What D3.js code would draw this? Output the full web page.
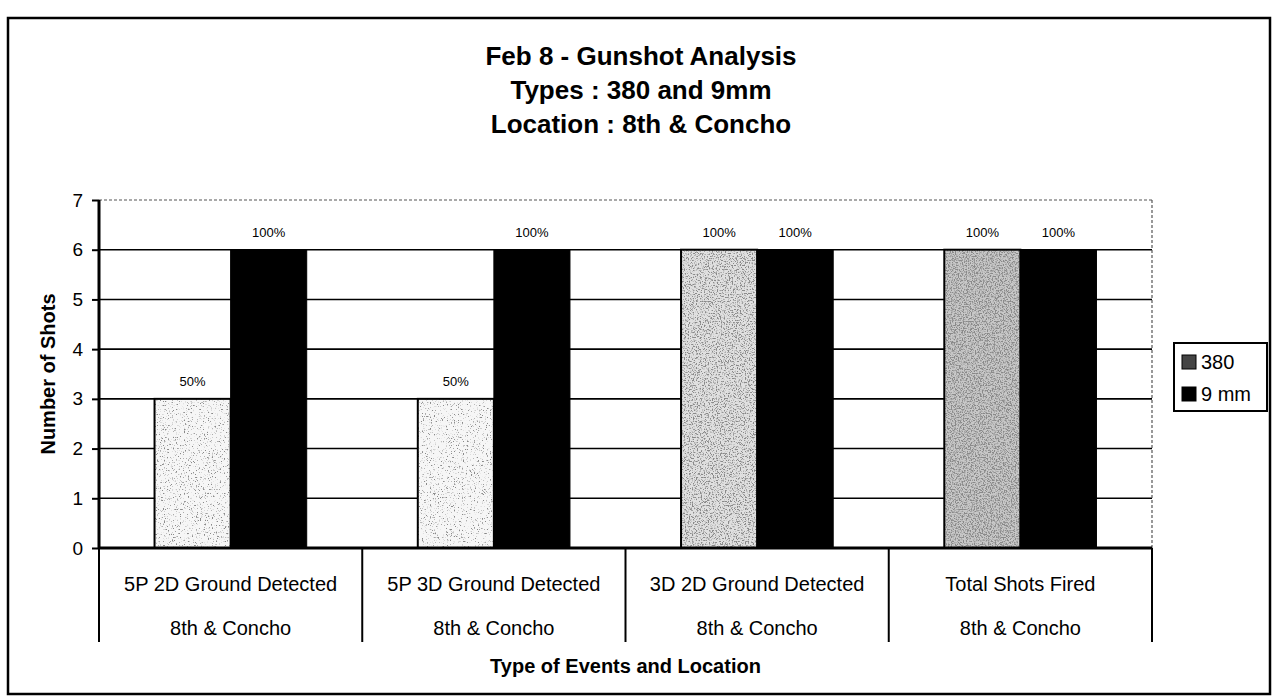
<!DOCTYPE html>
<html>
<head>
<meta charset="utf-8">
<script src="https://cdn.jsdelivr.net/npm/d3@7"></script>
<style>
  body { margin: 0; background: #fff; }
  svg { font-family: "Liberation Sans", Arial, sans-serif; }
</style>
</head>
<body>
<svg width="1279" height="700"></svg>
<script>
const categories = ['5P 2D Ground Detected', '5P 3D Ground Detected', '3D 2D Ground Detected', 'Total Shots Fired'];
const locations = ['8th & Concho', '8th & Concho', '8th & Concho', '8th & Concho'];
const series = ['380', '9 mm'];
const shots380 = [3, 3, 6, 6];
const shots9mm = [6, 6, 6, 6];
const pct380 = ['50%', '50%', '100%', '100%'];
const pct9mm = ['100%', '100%', '100%', '100%'];
const yTicks = [0, 1, 2, 3, 4, 5, 6, 7];
const titleLines = ['Feb 8 - Gunshot Analysis', 'Types : 380 and 9mm', 'Location : 8th & Concho'];

// scan-like stipple for the 380 bars, lighter on the left groups
const stipple = [
  {base: '#f6f6f6', k: 7, b: -4.2},
  {base: '#f6f6f6', k: 7, b: -4.2},
  {base: '#e0e0e0', k: 6, b: -3.0},
  {base: '#c8c8c8', k: 5, b: -2.2}
];

const svg = d3.select('svg');
const margin = {top: 200, right: 127, bottom: 152, left: 99};
const width = 1279 - margin.left - margin.right;
const height = 700 - margin.top - margin.bottom;

const defs = svg.append('defs');
stipple.forEach((s, i) => {
  const f = defs.append('filter').attr('id', `stip${i}`)
    .attr('x', 0).attr('y', 0).attr('width', 1).attr('height', 1);
  f.append('feTurbulence').attr('type', 'fractalNoise').attr('baseFrequency', 0.75)
    .attr('numOctaves', 2).attr('seed', i + 3).attr('result', 'noise');
  f.append('feColorMatrix').attr('in', 'noise').attr('type', 'matrix')
    .attr('values', `0 0 0 0 0.25  0 0 0 0 0.25  0 0 0 0 0.25  ${s.k} 0 0 0 ${s.b}`)
    .attr('result', 'dots');
  f.append('feComposite').attr('in', 'dots').attr('in2', 'SourceGraphic').attr('operator', 'atop');
});

// outer frame
svg.append('rect')
  .attr('x', 8).attr('y', 18).attr('width', 1262).attr('height', 676)
  .attr('fill', 'none').attr('stroke', '#000').attr('stroke-width', 2.5);

svg.append('g').selectAll('text')
  .data(titleLines)
  .join('text')
  .attr('x', 641)
  .attr('y', (d, i) => 56 + i * 34)
  .attr('dy', '0.35em')
  .attr('text-anchor', 'middle')
  .attr('font-size', 26)
  .attr('font-weight', 'bold')
  .text(d => d);

const g = svg.append('g').attr('transform', `translate(${margin.left},${margin.top})`);

const x = d3.scaleBand().domain(categories).range([0, width]).paddingInner(0).paddingOuter(0);
const x1 = d3.scaleBand().domain(series).range([0, x.bandwidth()]).paddingInner(0).paddingOuter(0.73);
const y = d3.scaleLinear().domain([0, 7]).range([height, 0]);

// gridlines
g.append('g').selectAll('line')
  .data(yTicks.filter(t => t > 0 && t < 7))
  .join('line')
  .attr('x1', 0).attr('x2', width)
  .attr('y1', d => y(d)).attr('y2', d => y(d))
  .attr('stroke', '#000').attr('stroke-width', 1.6);

g.append('line')
  .attr('x1', 0).attr('x2', width).attr('y1', y(7)).attr('y2', y(7))
  .attr('stroke', '#555').attr('stroke-width', 1.2).attr('stroke-dasharray', '3,2');
g.append('line')
  .attr('x1', width).attr('x2', width).attr('y1', y(7)).attr('y2', y(0))
  .attr('stroke', '#555').attr('stroke-width', 1.2).attr('stroke-dasharray', '3,2');

const groups = g.append('g').selectAll('g')
  .data(categories)
  .join('g')
  .attr('transform', d => `translate(${x(d)},0)`);

// 380 bars
groups.append('rect')
  .attr('x', x1('380'))
  .attr('y', (d, i) => y(shots380[i]))
  .attr('width', x1.bandwidth())
  .attr('height', (d, i) => y(0) - y(shots380[i]))
  .attr('fill', (d, i) => stipple[i].base)
  .attr('filter', (d, i) => `url(#stip${i})`);
groups.append('rect')
  .attr('x', x1('380'))
  .attr('y', (d, i) => y(shots380[i]))
  .attr('width', x1.bandwidth())
  .attr('height', (d, i) => y(0) - y(shots380[i]))
  .attr('fill', 'none').attr('stroke', '#000').attr('stroke-width', 2);

// 9 mm bars
groups.append('rect')
  .attr('x', x1('9 mm'))
  .attr('y', (d, i) => y(shots9mm[i]))
  .attr('width', x1.bandwidth())
  .attr('height', (d, i) => y(0) - y(shots9mm[i]))
  .attr('fill', '#000').attr('stroke', '#000').attr('stroke-width', 1);

groups.append('text')
  .attr('x', x1('380') + x1.bandwidth() / 2)
  .attr('y', (d, i) => y(shots380[i]) - 17)
  .attr('dy', '0.35em')
  .attr('text-anchor', 'middle')
  .attr('font-size', 13)
  .text((d, i) => pct380[i]);
groups.append('text')
  .attr('x', x1('9 mm') + x1.bandwidth() / 2)
  .attr('y', (d, i) => y(shots9mm[i]) - 17)
  .attr('dy', '0.35em')
  .attr('text-anchor', 'middle')
  .attr('font-size', 13)
  .text((d, i) => pct9mm[i]);

// y axis
const yAxis = g.append('g')
  .call(d3.axisLeft(y).tickValues(yTicks).tickSize(7).tickPadding(9).tickFormat(d3.format('d')));
yAxis.select('.domain').attr('stroke-width', 3).attr('d', `M0,${y(7)}V${height}`);
yAxis.selectAll('.tick line').attr('stroke-width', 2);
yAxis.selectAll('.tick text').attr('font-size', 19).attr('font-family', 'inherit').attr('fill', '#000');

// x axis with category dividers
g.append('line')
  .attr('x1', 0).attr('x2', width).attr('y1', height).attr('y2', height)
  .attr('stroke', '#000').attr('stroke-width', 3);
g.append('g').selectAll('line')
  .data(categories.map(c => x(c)).concat([width]))
  .join('line')
  .attr('x1', d => d).attr('x2', d => d)
  .attr('y1', height).attr('y2', height + 94)
  .attr('stroke', '#000').attr('stroke-width', 2);

const labels = g.append('g').selectAll('g')
  .data(categories)
  .join('g')
  .attr('transform', d => `translate(${x(d) + x.bandwidth() / 2},${height})`);
labels.append('text')
  .attr('y', 36).attr('dy', '0.35em')
  .attr('text-anchor', 'middle').attr('font-size', 20)
  .text(d => d);
labels.append('text')
  .attr('y', 80).attr('dy', '0.35em')
  .attr('text-anchor', 'middle').attr('font-size', 20)
  .text((d, i) => locations[i]);

svg.append('text')
  .attr('x', margin.left + width / 2)
  .attr('y', 666)
  .attr('dy', '0.35em')
  .attr('text-anchor', 'middle')
  .attr('font-size', 20)
  .attr('font-weight', 'bold')
  .text('Type of Events and Location');

svg.append('text')
  .attr('transform', `translate(48,${margin.top + height / 2}) rotate(-90)`)
  .attr('dy', '0.35em')
  .attr('text-anchor', 'middle')
  .attr('font-size', 20)
  .attr('font-weight', 'bold')
  .text('Number of Shots');

// legend
const legend = svg.append('g').attr('transform', 'translate(1174,343)');
legend.append('rect')
  .attr('width', 93).attr('height', 68)
  .attr('fill', '#fff').attr('stroke', '#000').attr('stroke-width', 2);
const items = legend.selectAll('g.item')
  .data(series)
  .join('g')
  .attr('class', 'item')
  .attr('transform', (d, i) => `translate(8,${19 + i * 32})`);
items.append('rect')
  .attr('x', 0).attr('y', -7).attr('width', 14).attr('height', 14)
  .attr('fill', (d, i) => i === 0 ? '#444' : '#000')
  .attr('stroke', '#000').attr('stroke-width', 1);
items.append('text')
  .attr('x', 19).attr('dy', '0.35em')
  .attr('font-size', 20)
  .text(d => d);
</script>
</body>
</html>
